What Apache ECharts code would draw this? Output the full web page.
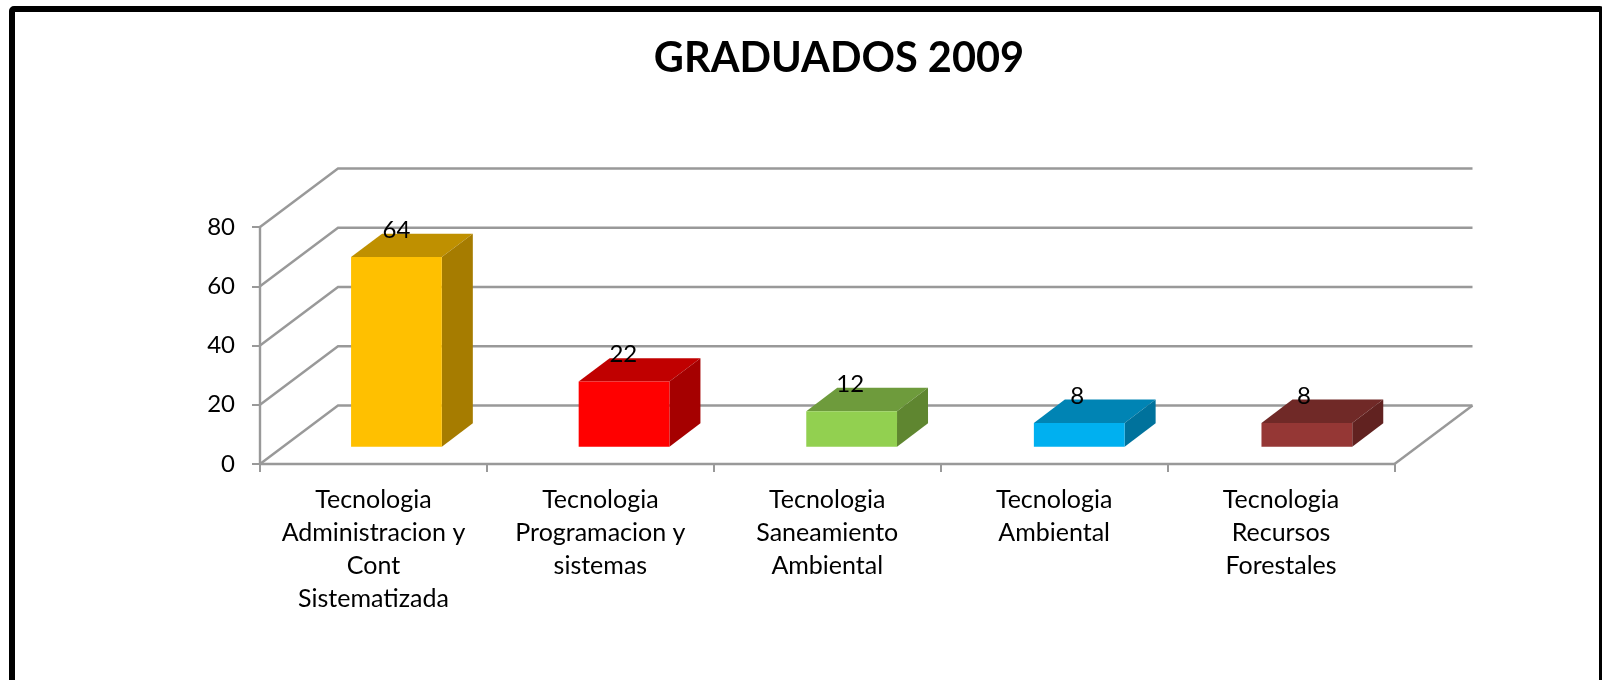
<!DOCTYPE html>
<html>
<head>
<meta charset="utf-8">
<title>Graduados 2009</title>
<style>
    html, body { margin: 0; padding: 0; background: #fff; }
    #chart { width: 1602px; height: 680px; }
</style>
<script src="https://cdn.jsdelivr.net/npm/echarts@6/dist/echarts.min.js"></script>
</head>
<body>
<div id="chart"></div>
<script>
// datos del grafico
var categories = [
    'Tecnologia\nAdministracion y\nCont\nSistematizada',
    'Tecnologia\nProgramacion y\nsistemas',
    'Tecnologia\nSaneamiento\nAmbiental',
    'Tecnologia\nAmbiental',
    'Tecnologia\nRecursos\nForestales'
]
var graduados = [64, 22, 12, 8, 8]
var yTicks = [0, 20, 40, 60, 80]

// colores: frente, tapa, lateral
var faceColors = ['#FFC000', '#FF0000', '#92D050', '#00B0F0', '#953735']
var topColors = ['#BF9000', '#C00000', '#6E9B3C', '#0084B4', '#702927']
var sideColors = ['#A67C00', '#A50000', '#5F8630', '#00729C', '#612220']

var font = 'Lato, "Open Sans", sans-serif'
var grey = '#999999'
var lineW = 2.4

// fondo 3D: cuanto se desplaza la pared trasera
var wallDx = 78
var wallDy = -58.5
// la barra no arranca en el plano frontal
var barDx = 23
var barDy = -17.3
var depthDx = 31
var depthDy = -23.4
var barRatio = 0.4
// las barras se separan un poco mas que los ticks
var barSpread = 0.7

var myChart = echarts.init(document.getElementById('chart'))

function renderWall (params, api) {
    var grid = params.coordSys
    var y = api.coord([0, api.value(0)])[1]
    var left = grid.x
    var right = grid.x + grid.width
    var children = [
        { type: 'polyline',
          shape: { points: [[left, y], [left + wallDx, y + wallDy], [right + wallDx, y + wallDy]] },
          style: { stroke: grey, lineWidth: lineW, fill: null } }
    ]
    if (params.dataIndex === 0) {
        children.push({ type: 'line',
            shape: { x1: right, y1: y, x2: right + wallDx, y2: y + wallDy },
            style: { stroke: grey, lineWidth: lineW } })
    }
    return { type: 'group', children: children }
}

function renderBar (params, api) {
    var i = params.dataIndex
    var top = api.coord([i, api.value(0)])
    var base = api.coord([i, 0])
    var w = api.size([1, 0])[0] * barRatio
    var x0 = top[0] - w / 2 + barDx + i * barSpread
    var x1 = x0 + w
    var yt = top[1] + barDy
    var yb = base[1] + barDy
    return {
        type: 'group',
        children: [
            { type: 'polygon',
              shape: { points: [[x0, yt], [x1, yt], [x1 + depthDx, yt + depthDy], [x0 + depthDx, yt + depthDy]] },
              style: { fill: topColors[i] } },
            { type: 'polygon',
              shape: { points: [[x1, yt], [x1 + depthDx, yt + depthDy], [x1 + depthDx, yb + depthDy], [x1, yb]] },
              style: { fill: sideColors[i] } },
            { type: 'rect',
              shape: { x: x0, y: yt, width: w, height: yb - yt },
              style: { fill: faceColors[i] } },
            { type: 'text',
              style: { text: String(api.value(0)), x: top[0] + barDx, y: yt - 27, align: 'center', verticalAlign: 'middle',
                       font: '24px ' + font, fill: '#000' } }
        ]
    }
}

myChart.setOption({
    animation: false,
    backgroundColor: '#fff',
    title: {
        text: 'GRADUADOS 2009',
        left: 834,
        top: 33,
        textAlign: 'center',
        textStyle: { fontFamily: font, fontSize: 41.5, fontWeight: 'bold', color: '#000' }
    },
    graphic: [{
        type: 'rect',
        silent: true,
        shape: { x: 12, y: 9, width: 1590, height: 720, r: 2 },
        style: { fill: null, stroke: '#000', lineWidth: 6 }
    }],
    grid: { left: 260, right: 207.5, top: 227, bottom: 216 },
    xAxis: {
        type: 'category',
        data: categories,
        axisLine: { lineStyle: { color: grey, width: lineW } },
        axisTick: { show: true, length: 8, lineStyle: { color: grey, width: 2 } },
        axisLabel: { interval: 0, margin: 19, fontFamily: font, fontSize: 25, lineHeight: 33, color: '#000' }
    },
    yAxis: {
        type: 'value',
        min: 0,
        max: 80,
        interval: 20,
        splitLine: { show: false },
        axisLine: { show: true, lineStyle: { color: grey, width: lineW } },
        axisTick: { show: true, length: 8, lineStyle: { color: grey, width: 2 } },
        axisLabel: { margin: 25, fontFamily: font, fontSize: 24, color: '#000', padding: [6, 0, 0, 0] }
    },
    series: [
        {
            type: 'custom',
            z: 1,
            silent: true,
            clip: false,
            renderItem: renderWall,
            encode: { y: 0 },
            data: yTicks.map(function (v) { return [v] })
        },
        {
            type: 'custom',
            z: 3,
            clip: false,
            renderItem: renderBar,
            encode: { y: 0 },
            data: graduados.map(function (v) { return [v] })
        }
    ]
})
</script>
</body>
</html>
